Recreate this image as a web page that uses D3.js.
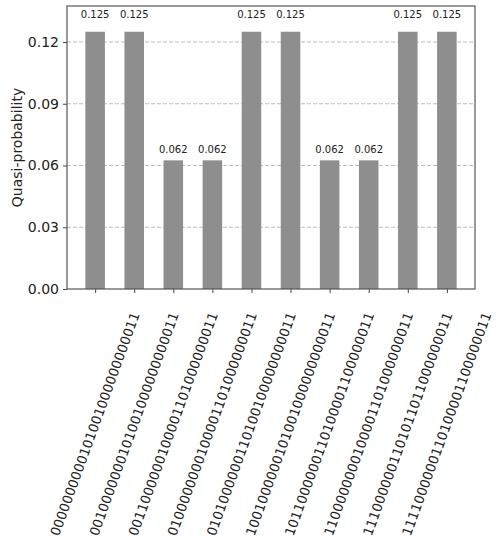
<!DOCTYPE html>
<html>
<head>
<meta charset="utf-8">
<script src="https://cdn.jsdelivr.net/npm/d3@7"></script>
<style>
  html, body { margin: 0; padding: 0; background: #fff; }
  svg { display: block; font-family: "DejaVu Sans", sans-serif; }
</style>
</head>
<body>
<svg id="chart" width="500" height="550"></svg>
<script>
// ---- data ----
const categories = [
  "0000000000101001000000000011",
  "0010000000101001000000000011",
  "0011000000100001101000000011",
  "0100000000100001101000000011",
  "0101000000110100100000000011",
  "1001000000101001000000000011",
  "1011000000110100001100000011",
  "1100000000100001101000000011",
  "1110000001101011011000000011",
  "1111000000110100001100000011"
];
const values = [0.125, 0.125, 0.0625, 0.0625, 0.125, 0.125, 0.0625, 0.0625, 0.125, 0.125];
const yTicks = [0.00, 0.03, 0.06, 0.09, 0.12];
const yLabel = "Quasi-probability";

// ---- layout ----
const svg = d3.select("#chart");
const mLeft = 67, mRight = 475, mTop = 6, mBottom = 289;
const yMax = d3.max(values) * 1.1;

const x = d3.scaleLinear().domain([-0.72, categories.length - 1 + 0.72]).range([mLeft, mRight]);
const y = d3.scaleLinear().domain([0, yMax]).range([mBottom, mTop]);
const barW = x(0.5) - x(0);

// grid
svg.append("g").selectAll("line")
  .data(yTicks.filter(d => d > 0))
  .join("line")
  .attr("x1", mLeft).attr("x2", mRight)
  .attr("y1", d => y(d)).attr("y2", d => y(d))
  .attr("stroke", "#bdbdbd").attr("stroke-width", 1)
  .attr("stroke-dasharray", "4,2");

// bars
svg.append("g").selectAll("rect")
  .data(values)
  .join("rect")
  .attr("x", (d, i) => x(i) - barW / 2)
  .attr("width", barW)
  .attr("y", d => y(d))
  .attr("height", d => mBottom - y(d))
  .attr("fill", "#8e8e8e");

// bar annotations
const fmt = v => (Math.floor(v * 1000 + 1e-9) / 1000).toFixed(3);
svg.append("g").selectAll("text")
  .data(values)
  .join("text")
  .attr("x", (d, i) => x(i))
  .attr("y", d => y(d * 1.05) - 1)
  .attr("text-anchor", "middle")
  .attr("font-size", 10)
  .attr("fill", "#222")
  .text(d => fmt(d));

// y axis
const yAxis = d3.axisLeft(y).tickValues(yTicks).tickFormat(d3.format(".2f")).tickSize(4).tickPadding(4);
const gy = svg.append("g").attr("transform", `translate(${mLeft},0)`).call(yAxis);
gy.select(".domain").remove();
gy.selectAll("text").attr("font-size", 14).attr("fill", "#222").attr("font-family", "DejaVu Sans");
gy.selectAll("line").attr("stroke", "#444");

// x axis
const xAxis = d3.axisBottom(x).tickValues(d3.range(categories.length)).tickFormat(() => "").tickSize(4);
const gx = svg.append("g").attr("transform", `translate(0,${mBottom})`).call(xAxis);
gx.select(".domain").remove();
gx.selectAll("line").attr("stroke", "#444");

// x tick labels (rotated 70deg, centred on tick)
svg.append("g").selectAll("text")
  .data(categories)
  .join("text")
  .attr("transform", (d, i) => `translate(${x(i)},424) rotate(-70)`)
  .attr("text-anchor", "middle")
  .attr("dominant-baseline", "central")
  .attr("font-size", 13.3)
  .attr("fill", "#222")
  .text(d => d);

// frame
svg.append("rect")
  .attr("x", mLeft).attr("y", mTop)
  .attr("width", mRight - mLeft).attr("height", mBottom - mTop)
  .attr("fill", "none").attr("stroke", "#555").attr("stroke-width", 1.2);

// y label
svg.append("text")
  .attr("transform", `translate(17,${(mTop + mBottom) / 2}) rotate(-90)`)
  .attr("text-anchor", "middle")
  .attr("dominant-baseline", "central")
  .attr("font-size", 14)
  .attr("fill", "#222")
  .text(yLabel);
</script>
</body>
</html>
